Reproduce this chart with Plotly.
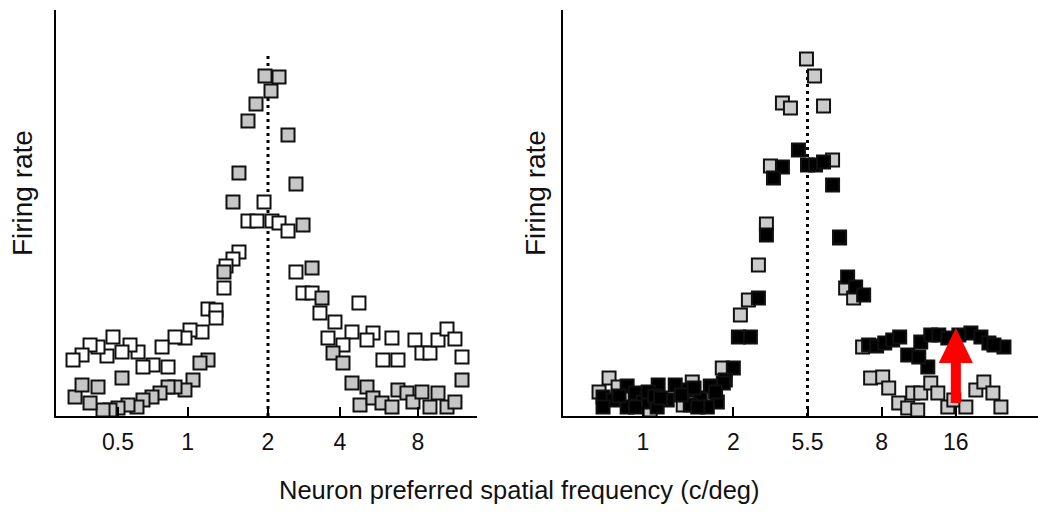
import plotly.graph_objects as go

# ---------------- data ----------------
# Left panel: x = log2(preferred SF, c/deg) ; y = firing rate (a.u.)
L_TICKVALS = [-1, -0.07, 1, 1.96, 3]
L_TICKTEXT = ["0.5", "1", "2", "4", "8"]
L_PEAK = 1.0  # 2 c/deg

left_white_x = [0.947, 0.733, 0.853, 1.053, 1.147, 1.267, 0.613, 0.533, 0.44, 0.413,
                0.2, 0.307, 0.307, 0.12, -0.04, -0.107, -0.24, -0.413, -0.333, -0.533,
                -0.667, -0.733, -0.84, -0.947, -1.067, -1.147, -1.267, -1.373, -1.48, -1.6,
                1.373, 1.467, 1.587, 1.693, 1.893, 2.213, 2.12, 1.8, 2.0, 2.4,
                2.32, 2.653, 2.533, 2.733, 2.96, 3.053, 3.16, 3.267, 3.387, 3.493, 3.587]
left_white_y = [53.5, 48.75, 48.75, 48.75, 48.25, 46.25, 41, 39.25, 37.5, 32,
                26.75, 26.5, 24.5, 21, 21.5, 19.5, 19.75, 17.25, 12.25, 12.75,
                12.25, 16, 17.75, 16, 19.75, 15, 17.25, 17.75, 15.25, 14,
                36, 30.75, 30.75, 25.75, 23.5, 28.25, 21, 19.5, 17.75, 20.75,
                19, 19.5, 14, 14, 19, 15.75, 15.75, 19, 21.75, 19.25, 14.75]

left_gray_x = [0.96, 1.147, 1.04, 0.84, 0.733, 1.267, 0.613, 1.373, 0.533, 1.467,
               0.413, 1.587, 1.72, 0.2, 0.093, 0.0, -0.107, -0.24, -0.333, -0.44,
               -0.547, -0.667, -0.747, -0.867, -1.0, -1.107, -1.2, -1.373, -1.573, -1.48,
               -1.267, -0.947, 1.867, 2.0, 2.12, 2.32, 2.227, 2.4, 2.52, 2.653,
               2.733, 2.853, 2.933, 3.053, 3.16, 3.267, 3.387, 3.493, 3.587]
left_gray_y = [85, 84.75, 81.25, 78, 73.75, 70.25, 60.75, 58, 53.5, 47.75,
               36, 37, 29.5, 14, 13.25, 9, 6.5, 7.25, 7.25, 5.75,
               4.75, 4, 2.25, 2.75, 2, 1.5, 1.5, 3.25, 4.75, 7.75,
               7.25, 9.5, 15.75, 13.25, 8.25, 7.25, 2.75, 4.5, 3.25, 2.25,
               6.5, 5.75, 3.5, 6, 2.25, 5.75, 2.25, 3.5, 9]

# Right panel: x = position on the (schematic) SF axis ; y = firing rate (a.u.)
R_TICKVALS = [-0.22, 1, 2, 3, 4]
R_TICKTEXT = ["1", "2", "5.5", "8", "16"]
R_PEAK = 2.0  # 5.5 c/deg

right_gray_x = [1.986, 2.095, 1.662, 1.77, 2.216, 2.338, 1.5, 1.446, 2.432, 1.338,
                1.203, 1.095, 2.514, 2.622, 0.892, -0.676, -0.554, -0.811, -0.122, 0.324,
                0.446, 0.851, 2.851, 3.014, 3.095, 3.23, 3.351, 3.419, 3.527, 3.662,
                3.757, 3.892, 3.973, 4.135, 4.27, 4.378, 4.5, 4.608, 3.486, 2.743]
right_gray_y = [89.25, 85, 78.25, 77, 77.5, 64, 62.5, 48, 44.5, 37.75,
                29, 25.25, 32, 29.5, 11.5, 9.5, 7.25, 6, 1.5, 2.75,
                8.5, 12, 9.5, 9.75, 7, 3.25, 2, 5.75, 5.75, 8.25,
                5.75, 2.25, 4, 2.25, 6.5, 8.5, 5.75, 2.25, 1.5, 17.25]

right_black_x = [1.878, 1.662, 1.541, 2.0, 2.108, 2.216, 2.338, 1.446, 2.432, 1.338,
                 1.068, 1.23, 2.541, 2.649, 2.757, 1.0, 0.892,
                 2.824, 2.932, 3.041, 3.149, 3.243, 3.351, 3.527, 3.662, 3.77,
                 3.892, 3.622, 3.5, 4.203, 4.338, 4.446, 4.649, 4.514, 4.041,
                 -0.757, -0.622, -0.432, -0.324, -0.216, -0.014, 0.108, 0.216, 0.392, 0.554,
                 0.689, 0.784, 0.865, -0.757, -0.432, -0.027, 0.649, -0.149, 0.419,
                 -0.54, -0.06, 0.3, 0.47, 0.76, 0.52, -0.32, 0.02]
right_black_y = [66.5, 62.25, 59.5, 62.75, 62.75, 63.5, 57.75, 45.25, 44.75, 29.5,
                 19.75, 19.75, 34.75, 32.25, 30.25, 12, 9,
                 17.75, 17.5, 18.25, 19, 19.75, 15.25, 18.5, 20.25, 20.25,
                 19.5, 12.25, 14.75, 20.75, 19.75, 18.25, 17.25, 17.75, 20.25,
                 4.75, 4, 7.5, 5.75, 3.5, 7.75, 4, 7.75, 6.5, 4.5,
                 7.5, 3.5, 8.25, 2.25, 2.25, 2.25, 2.25, 6, 2.75,
                 5.0, 5.0, 5.25, 7.0, 6.0, 2.25, 2.25, 4.5]

# red arrow (right panel, at 16 c/deg)
ARROW_X = 4.0
ARROW_TIP = 22.0
ARROW_HEAD_BASE = 13.25
ARROW_BOTTOM = 3.25
ARROW_HEAD_HALF = 0.23
ARROW_SHAFT_HALF = 0.068

Y_MAX = 101.5
L_RANGE = [-1.827, 3.787]
R_RANGE = [-1.297, 5.108]

# ---------------- figure ----------------
FONT = "Liberation Sans, Arial, sans-serif"
MSIZE = 13
EDGE = "#111111"
TXT = "#111111"

fig = go.Figure()

def sq(x, y, fill, xa, ya):
    return go.Scatter(x=x, y=y, mode="markers", xaxis=xa, yaxis=ya,
                      marker=dict(symbol="square", size=MSIZE, color=fill,
                                  line=dict(color=EDGE, width=2)),
                      cliponaxis=False, showlegend=False, hoverinfo="skip")

fig.add_trace(sq(left_white_x, left_white_y, "white", "x", "y"))
fig.add_trace(sq(left_gray_x, left_gray_y, "#c6c6c6", "x", "y"))
fig.add_trace(sq(right_gray_x, right_gray_y, "#cbcbcb", "x2", "y2"))
fig.add_trace(sq(right_black_x, right_black_y, "black", "x2", "y2"))

# arrow polygon
ax = [ARROW_X - ARROW_SHAFT_HALF, ARROW_X - ARROW_SHAFT_HALF, ARROW_X - ARROW_HEAD_HALF,
      ARROW_X, ARROW_X + ARROW_HEAD_HALF, ARROW_X + ARROW_SHAFT_HALF,
      ARROW_X + ARROW_SHAFT_HALF, ARROW_X - ARROW_SHAFT_HALF]
ay = [ARROW_BOTTOM, ARROW_HEAD_BASE, ARROW_HEAD_BASE, ARROW_TIP, ARROW_HEAD_BASE,
      ARROW_HEAD_BASE, ARROW_BOTTOM, ARROW_BOTTOM]
fig.add_trace(go.Scatter(x=ax, y=ay, xaxis="x2", yaxis="y2", mode="lines",
                         fill="toself", fillcolor="#ff0000", line=dict(width=0, color="#ff0000"),
                         showlegend=False, hoverinfo="skip"))

# dotted peak lines
fig.add_shape(type="line", xref="x", yref="y", x0=L_PEAK, x1=L_PEAK, y0=0, y1=90.75,
              line=dict(color="black", width=3, dash="3px,4px"), layer="below")
fig.add_shape(type="line", xref="x2", yref="y2", x0=R_PEAK, x1=R_PEAK, y0=0, y1=88,
              line=dict(color="black", width=3, dash="3px,4px"), layer="below")

W = 1038
axis_common = dict(showgrid=False, zeroline=False, showline=True, linecolor="black",
                   linewidth=2, ticks="inside", ticklen=9, tickwidth=2, tickcolor="black",
                   ticklabelstandoff=4,
                   tickfont=dict(family=FONT, size=23, color=TXT), fixedrange=True)
yaxis_common = dict(showgrid=False, zeroline=False, showline=True, linecolor="black",
                    linewidth=2, showticklabels=False, ticks="", range=[0, Y_MAX])

fig.update_layout(
    width=1038, height=512, margin=dict(l=0, r=0, t=10, b=96),
    paper_bgcolor="white", plot_bgcolor="white",
    xaxis=dict(domain=[56 / W, 477 / W], range=L_RANGE, tickvals=L_TICKVALS,
               ticktext=L_TICKTEXT, anchor="y", **axis_common),
    yaxis=dict(domain=[0, 1], anchor="x", **yaxis_common),
    xaxis2=dict(domain=[563 / W, 1.0], range=R_RANGE, tickvals=R_TICKVALS,
                ticktext=R_TICKTEXT, anchor="y2", **axis_common),
    yaxis2=dict(domain=[0, 1], anchor="x2", **yaxis_common),
    annotations=[
        dict(text="Firing rate", xref="paper", yref="paper", x=22 / W, y=0.549,
             xanchor="center", yanchor="middle",
             textangle=-90, showarrow=False, font=dict(family=FONT, size=28, color=TXT)),
        dict(text="Firing rate", xref="paper", yref="paper", x=535 / W, y=0.549,
             xanchor="center", yanchor="middle",
             textangle=-90, showarrow=False, font=dict(family=FONT, size=28, color=TXT)),
        dict(text="Neuron preferred spatial frequency (c/deg)", xref="paper", yref="paper",
             x=519 / W, y=-0.182, xanchor="center", yanchor="middle", showarrow=False,
             font=dict(family=FONT, size=25.5, color=TXT)),
    ],
)

fig.write_html("out.html")
